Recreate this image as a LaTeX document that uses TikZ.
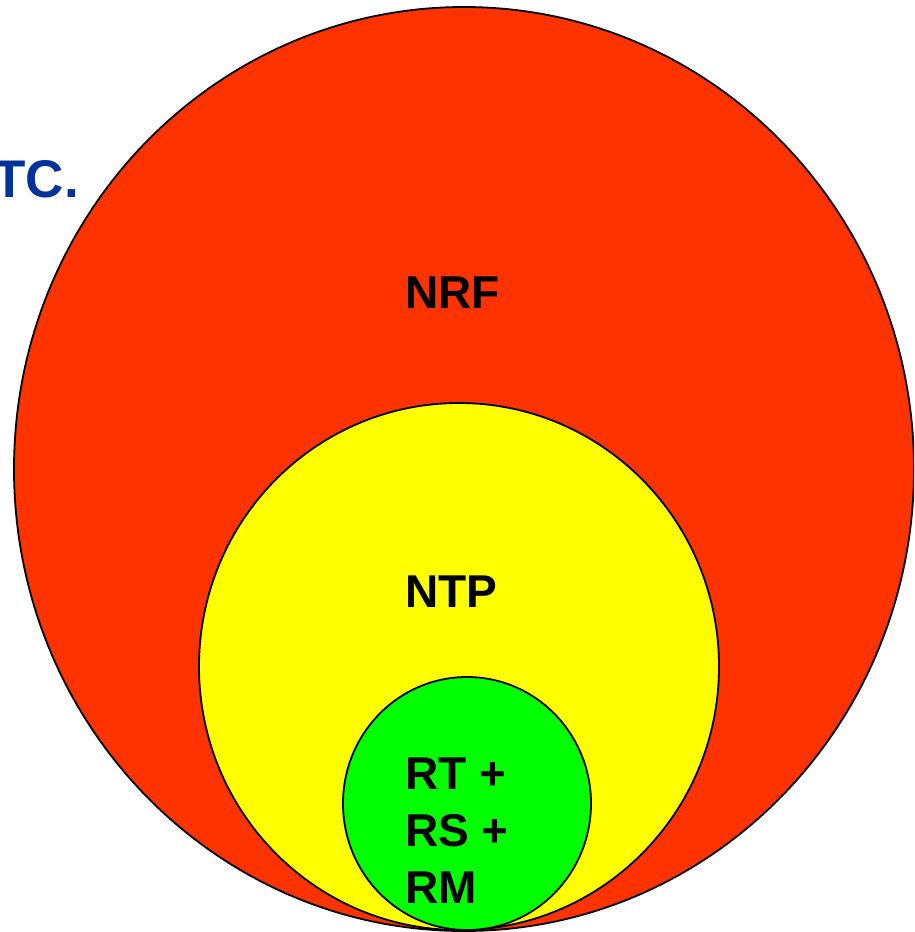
\documentclass[tikz,border=0pt]{standalone}
\usepackage{fontspec}
\setmainfont{Liberation Sans}
\definecolor{nrfred}{HTML}{FF3300}
\definecolor{ntpyellow}{HTML}{FFFF00}
\definecolor{rgreen}{HTML}{00FF00}
\definecolor{etcblue}{HTML}{003399}
\begin{document}
\begin{tikzpicture}[x=1pt,y=-1pt,
  ring/.style={draw=black,line width=1.8pt},
  lbl/.style={font=\fontsize{46}{57}\selectfont\bfseries,inner sep=0pt,anchor=base west}]
\useasboundingbox (0,0) rectangle (914,932);
\clip (0,0) rectangle (914,932);
\filldraw[ring,fill=nrfred] (464,469) ellipse [x radius=450,y radius=462];
\filldraw[ring,fill=ntpyellow] (459,666.5) ellipse [x radius=260,y radius=263.5];
\filldraw[ring,fill=rgreen] (467,803.5) ellipse [x radius=124,y radius=126.5];
\node[lbl] (nrf) at (405,308) {NRF};
\node[lbl] (ntp) at (405,607) {NTP};
\node[lbl] (rt) at (405,789) {RT +};
\node[lbl] (rs) at (405,846) {RS +};
\node[lbl] (rm) at (405,903) {RM};
\node[lbl,font=\fontsize{53}{60}\selectfont\bfseries,text=etcblue,anchor=base east] (etc) at (79,197) {TC.};
\end{tikzpicture}
\end{document}
